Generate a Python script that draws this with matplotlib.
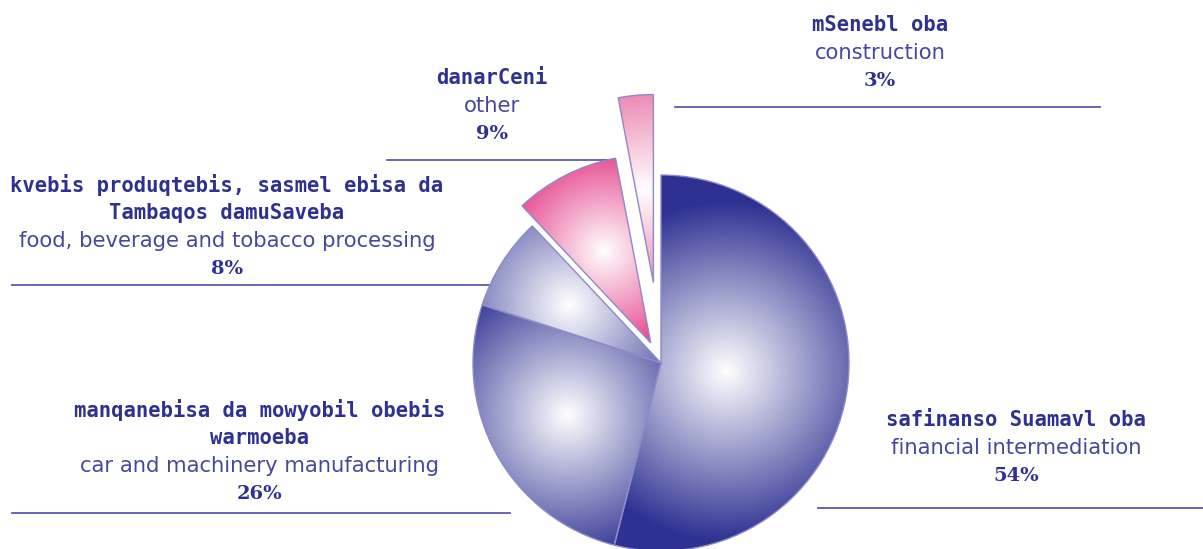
import numpy as np
import matplotlib
matplotlib.use("Agg")
import matplotlib.pyplot as plt
from matplotlib.colors import to_rgb

# sector shares (%), clockwise from 12 o'clock
shares = [54, 26, 8, 9, 3]
pct_labels = ["54%", "26%", "8%", "9%", "3%"]
geo_labels = [
    ["safinanso Suamavl oba"],
    ["manqanebisa da mowyobil obebis", "warmoeba"],
    ["kvebis produqtebis, sasmel ebisa da", "Tambaqos damuSaveba"],
    ["danarCeni"],
    ["mSenebl oba"],
]
eng_labels = [
    "financial intermediation",
    "car and machinery manufacturing",
    "food, beverage and tobacco processing",
    "other",
    "construction",
]
explode = [0, 0, 0, 0.12, 0.43]

W, H = 1203, 549
R = 188
NAVY = "#2E3192"
TXT = "#4648A0"
LINE = "#5C5CAE"

fig = plt.figure(figsize=(W / 100, H / 100), dpi=100)
ax = fig.add_axes([0, 0, 1, 1])

# pie's explode is in data units, so scale by radius
wedges, _ = ax.pie(shares, startangle=90, counterclock=False,
                   explode=[e * R for e in explode],
                   radius=R, center=(661, H - 363),
                   wedgeprops=dict(facecolor="none", edgecolor="#8C8AC8",
                                   linewidth=1.0, zorder=3))

# radial gradient fill per wedge: (base colour, highlight offset, reach)
shading = [
    (NAVY, 0.35, 170),
    (NAVY, 0.57, 150),
    (NAVY, 0.58, 155),
    ("#E6408A", 0.55, 105),
    ("#E8679F", 0.50, 125),
]


def shade(w, base, frac, reach):
    cx, cy = w.center
    r = w.r
    mid = np.deg2rad((w.theta1 + w.theta2) / 2)
    hx = cx + frac * r * np.cos(mid)
    hy = cy + frac * r * np.sin(mid)
    x0, x1, y0, y1 = cx - r, cx + r, cy - r, cy + r
    X, Y = np.meshgrid(np.linspace(x0, x1, 500), np.linspace(y0, y1, 500))
    t = np.clip(np.hypot(X - hx, Y - hy) / reach, 0, 1)
    rgb = 1 - t[..., None] * (1 - np.array(to_rgb(base)))
    im = ax.imshow(rgb, extent=(x0, x1, y0, y1), origin="lower",
                   interpolation="bilinear", zorder=1)
    im.set_clip_path(w)


for w, (base, frac, reach) in zip(wedges, shading):
    shade(w, base, frac, reach)

# label blocks: (center x, y of first line, underline y, underline x-range) in image px
blocks = [
    (1016, 420, 508, (818, 1203)),
    (260, 410, 513, (12, 510)),
    (227, 185, 285, (12, 490)),
    (492, 78, 160, (387, 607)),
    (880, 25, 107, (675, 1100)),
]
STEP = 28

for i, (x, y, ly, (lx0, lx1)) in enumerate(blocks):
    yy = y
    for line in geo_labels[i]:
        ax.text(x, H - yy, line, ha="center", va="center", color=NAVY,
                family="DejaVu Sans Mono", fontsize=14.8, fontweight="bold")
        yy += STEP
    ax.text(x, H - yy, eng_labels[i], ha="center", va="center", color=TXT,
            family="DejaVu Sans", fontsize=15.2)
    yy += STEP
    ax.text(x, H - yy, pct_labels[i], ha="center", va="center",
            color=NAVY, family="DejaVu Serif", fontsize=14, fontweight="bold")
    ax.plot([lx0, lx1], [H - ly, H - ly], color=LINE, lw=1.3, zorder=2)

ax.set_xlim(0, W)
ax.set_ylim(0, H)
ax.set_aspect("equal")
ax.axis("off")

fig.savefig("out.png", dpi=100, facecolor="white")
